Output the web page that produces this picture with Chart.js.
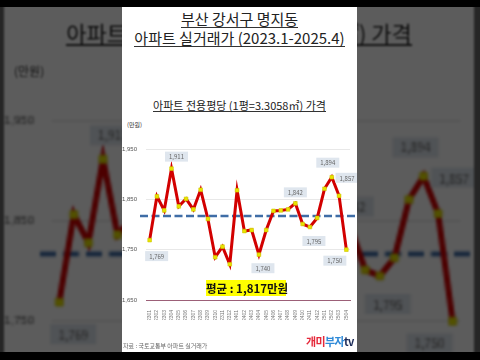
<!DOCTYPE html>
<html>
<head>
<meta charset="utf-8">
<script src="https://cdn.jsdelivr.net/npm/chart.js@4/dist/chart.umd.min.js"></script>
<style>
body{margin:0;width:480px;height:360px;overflow:hidden;background:#262626;font-family:"Noto Sans CJK KR","Noto Sans",sans-serif}
.stage{position:absolute;left:0;top:0;width:480px;height:360px}
#bg{transform:scale(2);transform-origin:240px 178px;filter:brightness(0.36) blur(0.5px)}
.panel{position:absolute;left:122px;top:0;width:235px;height:360px;background:#fff;overflow:hidden}
.panel div{position:absolute;white-space:nowrap}
.t1,.t2{left:0;width:235px;text-align:center;color:#222;font-size:15px;line-height:16px;font-weight:400}
.t1 span,.t2 span,.sub span{display:inline-block;border-bottom:1px solid #333;padding-bottom:0px}
.t1{top:11px}
.t2{top:30px}
.sub{left:0;width:235px;text-align:center;top:99px;font-size:11px;line-height:12px;color:#222}
.unit{left:5px;top:121px;font-size:6px;line-height:7px;color:#333}
.avg{left:84px;top:280px;width:80px;height:16px;background:#ffff00;text-align:center;font-size:11.5px;line-height:16px;font-weight:bold;color:#111}
.src{left:1px;top:342px;font-size:6px;line-height:7px;color:#666}
.logo{left:184px;top:335px;font-size:11px;line-height:13px;font-weight:bold;letter-spacing:-0.6px}
.panel canvas{position:absolute;left:0;top:92px}
.bar{position:absolute;left:0;width:480px;background:#000}
</style>
</head>
<body>
<div id="bg" class="stage"></div>
<div id="fg" class="stage"></div>
<div class="bar" style="top:0;height:7px"></div>
<div class="bar" style="top:352px;height:8px"></div>
<script>
// 2023.1 ~ 2025.4 monthly
const months = ['202301','202302','202303','202304','202305','202306','202307','202308','202309','202310','202311','202312',
  '202401','202402','202403','202404','202405','202406','202407','202408','202409','202410','202411','202412',
  '202501','202502','202503','202504'];
const prices = [1769,1856,1828,1911,1836,1851,1830,1869,1811,1735,1756,1721,
  1868,1787,1789,1740,1789,1827,1828,1830,1842,1801,1795,1813,
  1871,1894,1857,1750];
const avgPrice = 1817;
const yTicks = [1650,1750,1850,1950];

// which points get a value box, and where the box sits (dx, dy from the point)
const labelPos = {0:[7,16], 3:[5,-12], 15:[4,13.5], 20:[0,-11], 22:[4,14], 25:[-4,-14.5], 26:[8,-18], 27:[-11.5,11]};

function fmt(v){ return v.toLocaleString('en-US'); }

const avgLine = {
  id:'avgLine',
  beforeDatasetsDraw(chart){
    const ctx = chart.ctx, a = chart.chartArea;
    const y = chart.scales.y.getPixelForValue(avgPrice);
    ctx.save();
    ctx.strokeStyle = '#3f6da6';
    ctx.lineWidth = 2.6;
    ctx.setLineDash([8,3.5]);
    ctx.beginPath();
    ctx.moveTo(a.left-6, y);
    ctx.lineTo(a.right+6, y);
    ctx.stroke();
    ctx.restore();
  }
};

const valueBoxes = {
  id:'valueBoxes',
  afterDatasetsDraw(chart){
    const ctx = chart.ctx;
    const pts = chart.getDatasetMeta(0).data;
    ctx.save();
    ctx.font = '6px "Noto Sans CJK KR", sans-serif';
    ctx.textAlign = 'center';
    ctx.textBaseline = 'middle';
    for (const k in labelPos){
      const p = pts[k];
      const cx = p.x + labelPos[k][0], cy = p.y + labelPos[k][1];
      const txt = fmt(prices[k]);
      const w = ctx.measureText(txt).width + 8;
      ctx.fillStyle = '#dfe6ee';
      ctx.fillRect(cx - w/2, cy - 5, w, 10);
      ctx.fillStyle = '#666';
      ctx.fillText(txt, cx, cy + 0.5);
    }
    ctx.restore();
  }
};

function buildPanel(stage){
  const p = document.createElement('div');
  p.className = 'panel';
  p.innerHTML =
    '<div class="t1"><span>부산 강서구 명지동</span></div>' +
    '<div class="t2"><span>아파트 실거래가 (2023.1-2025.4)</span></div>' +
    '<div class="sub"><span>아파트 전용평당 (1평=3.3058㎡) 가격</span></div>' +
    '<div class="unit">(만원)</div>' +
    '<canvas width="235" height="260"></canvas>' +
    '<div class="avg">평균 : ' + fmt(avgPrice) + '만원</div>' +
    '<div class="src">자료 : 국토교통부 아파트 실거래가</div>' +
    '<div class="logo"><span style="color:#e5283a">개미</span><span style="color:#2f8ad8">부자</span><span style="color:#1b2a58">tv</span></div>';
  stage.appendChild(p);
  const cv = p.querySelector('canvas');
  new Chart(cv, {
    type:'line',
    data:{
      labels: months,
      datasets:[{
        data: prices,
        borderColor:'#d20000',
        borderWidth:3,
        tension:0,
        pointStyle:'rect',
        pointRadius:2.6,
        pointBackgroundColor:'#e8e400',
        pointBorderColor:'#cfc800',
        pointBorderWidth:0.6
      }]
    },
    options:{
      responsive:false,
      animation:false,
      events:[],
      layout:{padding:{top:57,bottom:32,left:0,right:7}},
      plugins:{legend:{display:false}, tooltip:{enabled:false}},
      scales:{
        x:{
          offset:true,
          grid:{display:false},
          border:{color:'#9c6078', width:1},
          ticks:{minRotation:90, maxRotation:90, autoSkip:false, padding:2,
            font:{size:5}, color:'#777'},
          afterFit(s){ s.height = 20; }
        },
        y:{
          min:1650, max:1950,
          afterBuildTicks(s){ s.ticks = yTicks.map(v => ({value:v})); },
          grid:{color:'#e8e8e8', drawTicks:false},
          border:{display:false},
          ticks:{padding:9, font:{size:6}, color:'#555', callback:v => fmt(v)},
          afterFit(s){ s.width = 24; }
        }
      }
    },
    plugins:[avgLine, valueBoxes]
  });
}

buildPanel(document.getElementById('bg'));
buildPanel(document.getElementById('fg'));
</script>
</body>
</html>
